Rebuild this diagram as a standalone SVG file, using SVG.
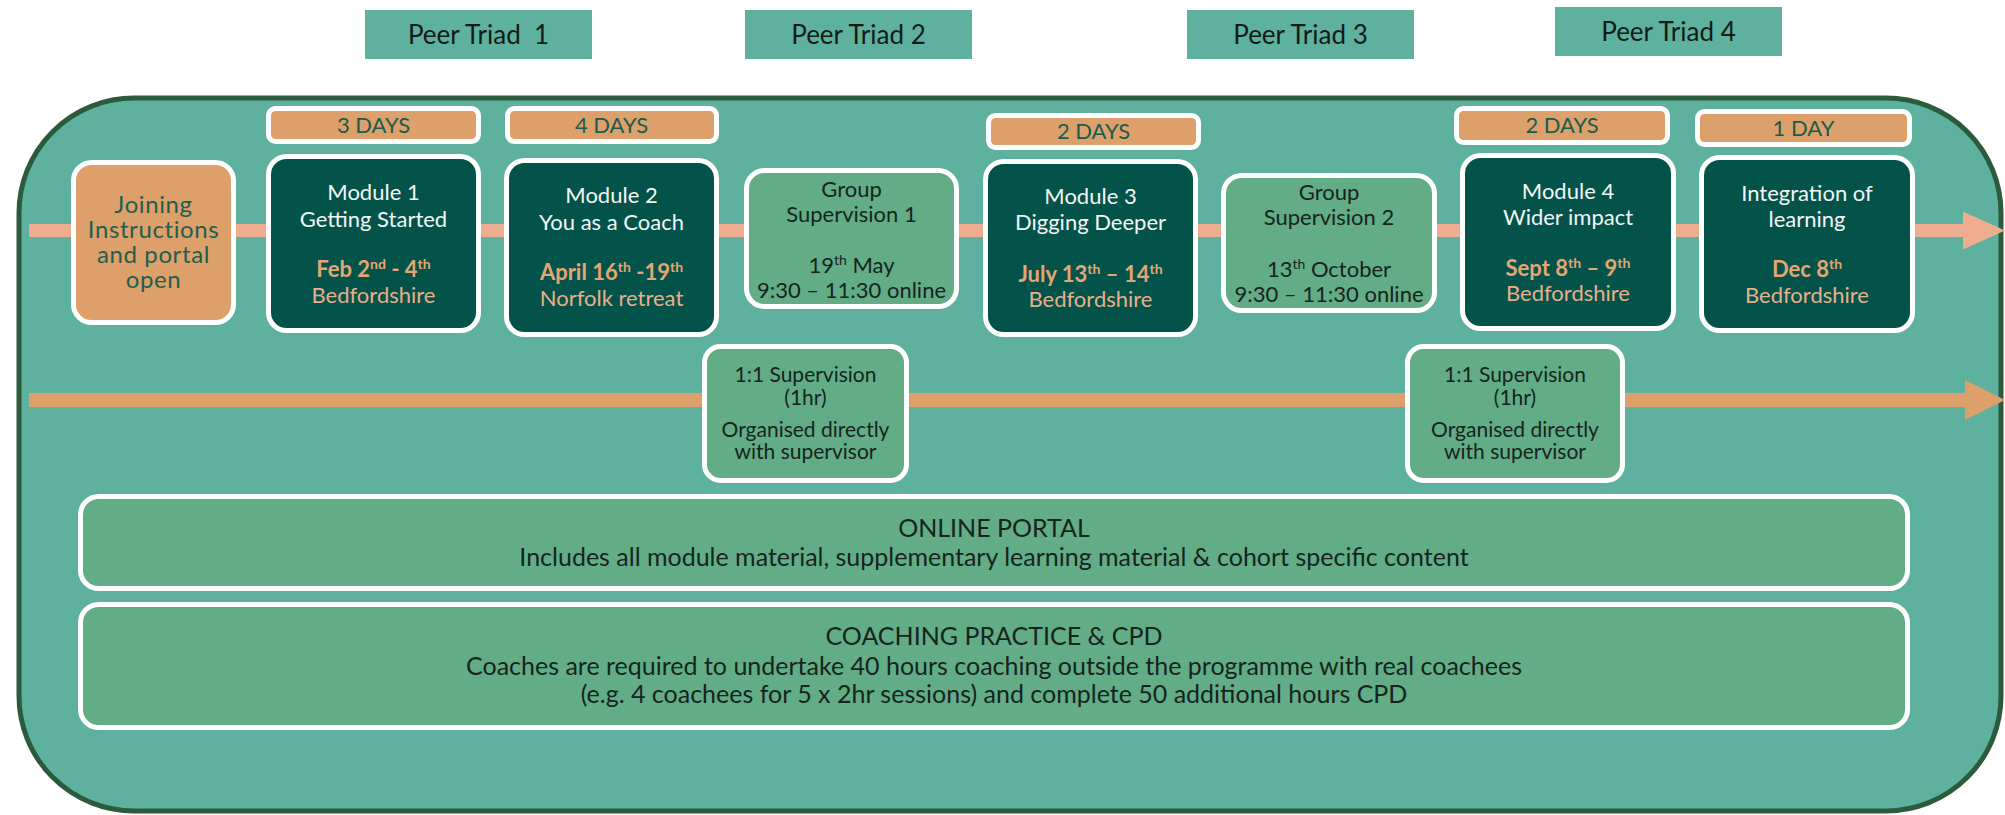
<svg xmlns="http://www.w3.org/2000/svg" width="2005" height="815" viewBox="0 0 2005 815">
<defs>
<style>
text{font-family:Lato,"Noto Sans","Liberation Sans",sans-serif;text-anchor:middle}
.triad{fill:#5DB19E}
.triadt{font-size:26px;fill:#141a18}
.box{stroke:#ffffff;stroke-width:5}
.mod{fill:#03534A}
.org{fill:#DDA06A}
.lg{fill:#62AD86}
.days{font-size:22px;fill:#1B5B4D}
.wt{font-size:22px;fill:#F4F6F5}
.dt{font-size:22px;fill:#E4A673;font-weight:bold}
.pl{font-size:22px;fill:#E8B08A}
.dk{font-size:22px;fill:#16241d}
.sm{font-size:21px;fill:#16241d}
.big{font-size:25px;fill:#16241d}
.jt{font-size:24px;letter-spacing:0.6px;fill:#1F5E4F}
.sup{font-size:14px}
</style>
<marker id="headA" markerUnits="userSpaceOnUse" markerWidth="42" markerHeight="38" refX="0" refY="19" orient="auto" viewBox="0 0 42 38">
<path d="M0,0 L42,19 L0,38 Z" fill="#EEAD8F"/>
</marker>
<marker id="headB" markerUnits="userSpaceOnUse" markerWidth="40" markerHeight="40" refX="0" refY="20" orient="auto" viewBox="0 0 40 40">
<path d="M0,0 L40,20 L0,40 Z" fill="#DDA06A"/>
</marker>
</defs>

<g id="peer-triads">
<g id="triad1"><rect class="triad" x="365" y="10" width="227" height="49"/><text class="triadt" x="478.5" y="43.5" xml:space="preserve">Peer Triad  1</text></g>
<g id="triad2"><rect class="triad" x="745" y="10" width="227" height="49"/><text class="triadt" x="858.5" y="43.5">Peer Triad 2</text></g>
<g id="triad3"><rect class="triad" x="1187" y="10" width="227" height="49"/><text class="triadt" x="1300.5" y="43.5">Peer Triad 3</text></g>
<g id="triad4"><rect class="triad" x="1555" y="7" width="227" height="49"/><text class="triadt" x="1668.5" y="40.5">Peer Triad 4</text></g>
</g>

<g id="container">
<rect x="19" y="98" width="1982" height="713" rx="115" fill="#5DB19E" stroke="#2B5A3C" stroke-width="5"/>
</g>

<g id="connectors">
<line x1="29" y1="230.5" x2="1963" y2="230.5" stroke="#EEAD8F" stroke-width="13" marker-end="url(#headA)"/>
<line x1="29" y1="400" x2="1965" y2="400" stroke="#DDA06A" stroke-width="14" marker-end="url(#headB)"/>
</g>

<g id="joining">
<rect class="box org" x="73.5" y="162.5" width="160" height="160" rx="18"/>
<text class="jt" x="153.5" y="213">Joining</text>
<text class="jt" x="153.5" y="238">Instructions</text>
<text class="jt" x="153.5" y="263">and portal</text>
<text class="jt" x="153.5" y="288">open</text>
</g>

<g id="days1"><rect class="box org" x="268.5" y="108.5" width="210" height="33" rx="7"/><text class="days" x="373.5" y="133">3 DAYS</text></g>
<g id="module1">
<rect class="box mod" x="268.5" y="156.5" width="210" height="174" rx="18"/>
<text class="wt" x="373.5" y="200">Module 1</text>
<text class="wt" x="373.5" y="227">Getting Started</text>
<text class="dt" x="373.5" y="277">Feb 2<tspan class="sup" dy="-8">nd</tspan><tspan dy="8"> - 4</tspan><tspan class="sup" dy="-8">th</tspan></text>
<text class="pl" x="373.5" y="303">Bedfordshire</text>
</g>

<g id="days2"><rect class="box org" x="507.5" y="108.5" width="209" height="33" rx="7"/><text class="days" x="611.5" y="133">4 DAYS</text></g>
<g id="module2">
<rect class="box mod" x="506.5" y="160.5" width="210" height="174" rx="18"/>
<text class="wt" x="611.5" y="203">Module 2</text>
<text class="wt" x="611.5" y="230">You as a Coach</text>
<text class="dt" x="611.5" y="280">April 16<tspan class="sup" dy="-8">th</tspan><tspan dy="8"> -19</tspan><tspan class="sup" dy="-8">th</tspan></text>
<text class="pl" x="611.5" y="306">Norfolk retreat</text>
</g>

<g id="group-supervision1">
<rect class="box lg" x="746.5" y="170.5" width="210" height="136" rx="18"/>
<text class="dk" x="851.5" y="197">Group</text>
<text class="dk" x="851.5" y="222">Supervision 1</text>
<text class="dk" x="851.5" y="273">19<tspan class="sup" dy="-8">th</tspan><tspan dy="8"> May</tspan></text>
<text class="dk" x="851.5" y="298">9:30 – 11:30 online</text>
</g>

<g id="days3"><rect class="box org" x="988.5" y="115.5" width="210" height="32" rx="7"/><text class="days" x="1093.5" y="139">2 DAYS</text></g>
<g id="module3">
<rect class="box mod" x="985.5" y="161.5" width="210" height="173" rx="18"/>
<text class="wt" x="1090.5" y="204">Module 3</text>
<text class="wt" x="1090.5" y="230">Digging Deeper</text>
<text class="dt" x="1090.5" y="282">July 13<tspan class="sup" dy="-8">th</tspan><tspan dy="8"> – 14</tspan><tspan class="sup" dy="-8">th</tspan></text>
<text class="pl" x="1090.5" y="307">Bedfordshire</text>
</g>

<g id="group-supervision2">
<rect class="box lg" x="1223.5" y="175.5" width="211" height="135" rx="18"/>
<text class="dk" x="1329" y="200">Group</text>
<text class="dk" x="1329" y="225">Supervision 2</text>
<text class="dk" x="1329" y="277">13<tspan class="sup" dy="-8">th</tspan><tspan dy="8"> October</tspan></text>
<text class="dk" x="1329" y="302">9:30 – 11:30 online</text>
</g>

<g id="days4"><rect class="box org" x="1456.5" y="108.5" width="211" height="34" rx="7"/><text class="days" x="1562" y="133">2 DAYS</text></g>
<g id="module4">
<rect class="box mod" x="1462.5" y="155.5" width="211" height="173" rx="18"/>
<text class="wt" x="1568" y="199">Module 4</text>
<text class="wt" x="1568" y="225">Wider impact</text>
<text class="dt" x="1568" y="276">Sept 8<tspan class="sup" dy="-8">th</tspan><tspan dy="8"> – 9</tspan><tspan class="sup" dy="-8">th</tspan></text>
<text class="pl" x="1568" y="301">Bedfordshire</text>
</g>

<g id="days5"><rect class="box org" x="1697.5" y="111.5" width="212" height="33" rx="7"/><text class="days" x="1803.5" y="136">1 DAY</text></g>
<g id="integration">
<rect class="box mod" x="1701.5" y="157.5" width="211" height="173" rx="18"/>
<text class="wt" x="1807" y="201">Integration of</text>
<text class="wt" x="1807" y="227">learning</text>
<text class="dt" x="1807" y="277">Dec 8<tspan class="sup" dy="-8">th</tspan></text>
<text class="pl" x="1807" y="303">Bedfordshire</text>
</g>

<g id="one-to-one1">
<rect class="box lg" x="704.5" y="346.5" width="202" height="134" rx="16"/>
<text class="sm" x="805.5" y="382">1:1 Supervision</text>
<text class="sm" x="805.5" y="405">(1hr)</text>
<text class="sm" x="805.5" y="437">Organised directly</text>
<text class="sm" x="805.5" y="459">with supervisor</text>
</g>

<g id="one-to-one2">
<rect class="box lg" x="1407.5" y="346.5" width="215" height="134" rx="16"/>
<text class="sm" x="1515" y="382">1:1 Supervision</text>
<text class="sm" x="1515" y="405">(1hr)</text>
<text class="sm" x="1515" y="437">Organised directly</text>
<text class="sm" x="1515" y="459">with supervisor</text>
</g>

<g id="online-portal">
<rect class="box lg" x="80.5" y="496.5" width="1827" height="92" rx="18"/>
<text class="big" x="994" y="537">ONLINE PORTAL</text>
<text class="big" x="994" y="566">Includes all module material, supplementary learning material &amp; cohort specific content</text>
</g>

<g id="coaching-practice">
<rect class="box lg" x="80.5" y="604.5" width="1827" height="123" rx="18"/>
<text class="big" x="994" y="645">COACHING PRACTICE &amp; CPD</text>
<text class="big" x="994" y="675">Coaches are required to undertake 40 hours coaching outside the programme with real coachees</text>
<text class="big" x="994" y="703">(e.g. 4 coachees for 5 x 2hr sessions) and complete 50 additional hours CPD</text>
</g>
</svg>
